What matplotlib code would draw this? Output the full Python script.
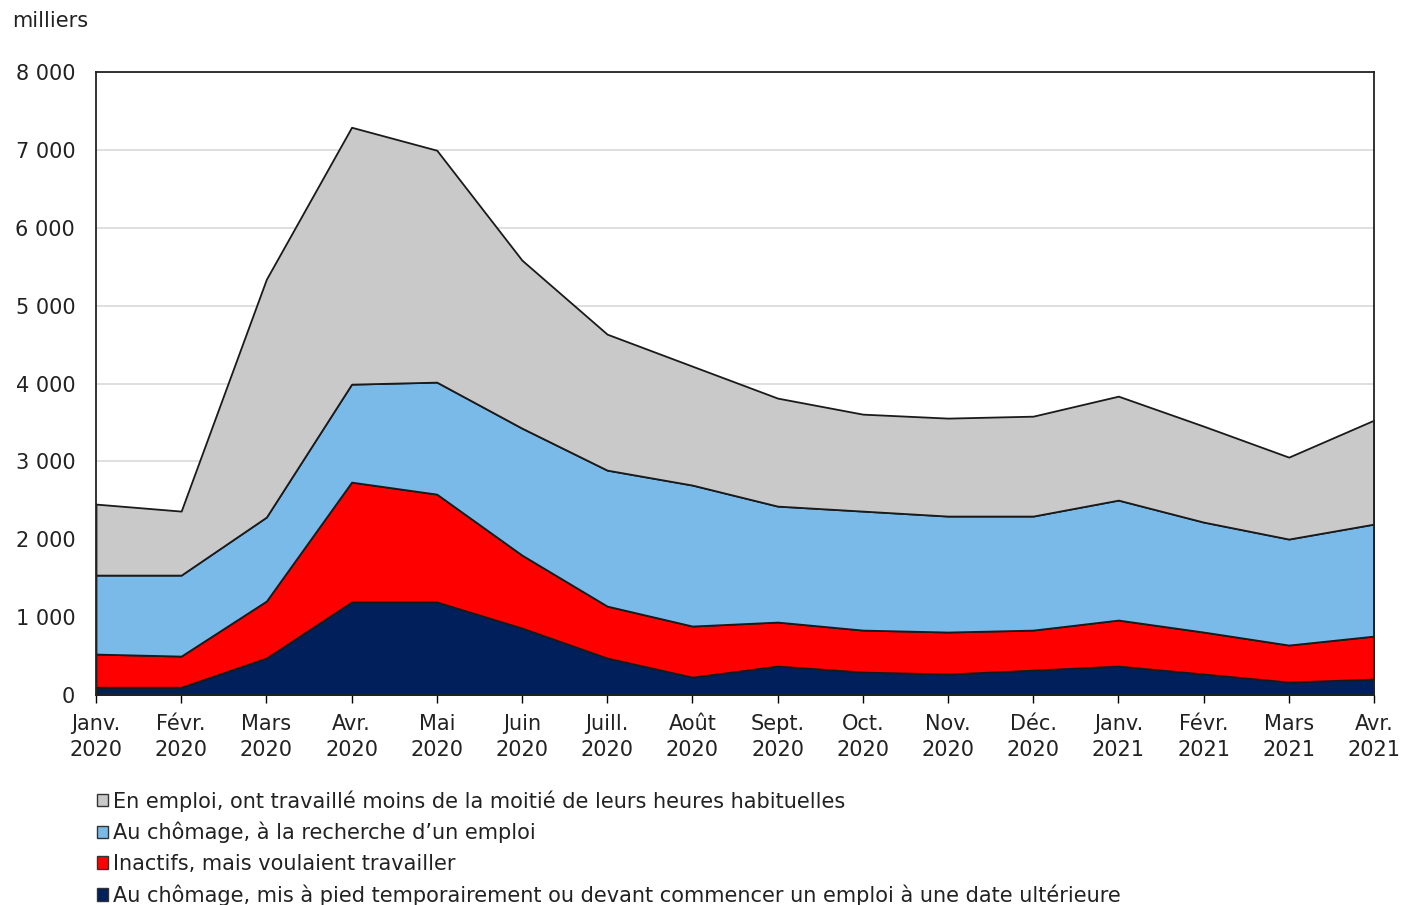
import matplotlib
matplotlib.use("Agg")
import matplotlib.pyplot as plt
from matplotlib.ticker import FuncFormatter

# months shown on the x axis
mois = ["Janv.\n2020", "Févr.\n2020", "Mars\n2020", "Avr.\n2020", "Mai\n2020", "Juin\n2020",
        "Juill.\n2020", "Août\n2020", "Sept.\n2020", "Oct.\n2020", "Nov.\n2020", "Déc.\n2020",
        "Janv.\n2021", "Févr.\n2021", "Mars\n2021", "Avr.\n2021"]

# milliers (stacked bottom to top)
mis_a_pied = [100, 100, 475, 1195, 1195, 860, 475, 230, 372, 295, 270, 320, 372, 270, 167, 205]
inactifs = [426, 400, 732, 1539, 1385, 937, 667, 656, 565, 539, 539, 514, 591, 539, 475, 552]
recherche = [1014, 1040, 1078, 1258, 1438, 1630, 1746, 1810, 1489, 1528, 1489, 1464, 1540, 1412, 1361, 1438]
moins_moitie = [912, 822, 3055, 3299, 2978, 2157, 1746, 1527, 1387, 1245, 1258, 1283, 1335, 1232, 1052, 1335]

labels = [
    "Au chômage, mis à pied temporairement ou devant commencer un emploi à une date ultérieure",
    "Inactifs, mais voulaient travailler",
    "Au chômage, à la recherche d\u2019un emploi",
    "En emploi, ont travaillé moins de la moitié de leurs heures habituelles",
]
couleurs = ["#001f5b", "#ff0000", "#79bae8", "#c9c9c9"]

fs = 15

fig = plt.figure(figsize=(14.01, 9.05), dpi=100)
ax = fig.add_axes([0.0685, 0.232, 0.9122, 0.6884])

x = list(range(len(mois)))
polys = ax.stackplot(x, mis_a_pied, inactifs, recherche, moins_moitie,
                     colors=couleurs, labels=labels,
                     edgecolor="#1a1a1a", linewidth=1.3, zorder=2)

ax.set_xlim(0, len(mois) - 1)
ax.set_ylim(0, 8000)
ax.set_yticks(range(0, 8001, 1000))
ax.yaxis.set_major_formatter(FuncFormatter(lambda v, p: f"{int(v):,}".replace(",", " ")))
ax.set_xticks(x)
ax.set_xticklabels(mois, linespacing=1.35)
ax.grid(axis="y", color="#d9d9d9", linewidth=1.2, zorder=0)
ax.set_axisbelow(True)

ax.tick_params(axis="y", length=0, pad=15, labelsize=fs, labelcolor="#222222")
ax.tick_params(axis="x", length=6, width=1, direction="out", pad=8, labelsize=fs,
               labelcolor="#222222")
for s in ax.spines.values():
    s.set_color("#222222")
    s.set_linewidth(1.3)

fig.text(0.009, 0.977, "milliers", fontsize=fs, color="#222222", ha="left", va="center")

handles = polys[::-1]
leg = fig.legend(handles, labels[::-1], loc="upper left", bbox_to_anchor=(0.069, 0.127),
                 frameon=False, fontsize=fs, handlelength=0.55, handleheight=0.55,
                 handletextpad=0.25, labelspacing=0.5, borderaxespad=0, borderpad=0)
for h in leg.legend_handles:
    h.set_edgecolor("#333333")
    h.set_linewidth(1.0)
for t in leg.get_texts():
    t.set_color("#222222")

fig.savefig("out.png", dpi=100)
